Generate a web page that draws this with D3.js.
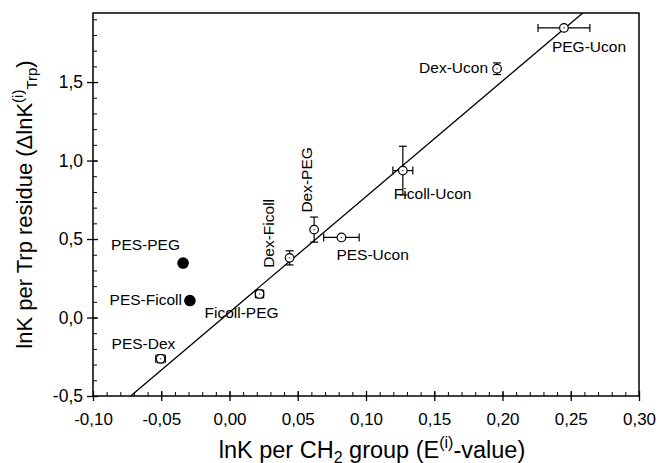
<!DOCTYPE html>
<html>
<head>
<meta charset="utf-8">
<script src="https://cdn.jsdelivr.net/npm/d3@7"></script>
<style>
  body { margin: 0; background: #fff; }
  text { font-family: "Liberation Sans", Arial, sans-serif; fill: #000; }
</style>
</head>
<body>
<div id="chart"></div>
<script>
// systems (polymer pairs) and their values
var systems = ['PEG-Ucon', 'Dex-Ucon', 'Ficoll-Ucon', 'PES-Ucon', 'Dex-PEG', 'Dex-Ficoll', 'Ficoll-PEG', 'PES-PEG', 'PES-Ficoll', 'PES-Dex'];
var eValues = [0.245, 0.196, 0.127, 0.082, 0.062, 0.044, 0.022, -0.034, -0.029, -0.0505];
var trpValues = [1.845, 1.585, 0.936, 0.51, 0.56, 0.38, 0.15, 0.347, 0.108, -0.263];
var eErrors = [0.019, 0.0, 0.0073, 0.013, 0.0, 0.0, 0.003, 0, 0, 0.0035];
var trpErrors = [0.0, 0.037, 0.155, 0.0, 0.08, 0.045, 0.025, 0, 0, 0.025];
var outliers = ['PES-PEG', 'PES-Ficoll'];

// fitted line end points
var fitX = [-0.0724, 0.2588];
var fitY = [-0.5, 1.94];

var xTicks = [-0.10, -0.05, 0.00, 0.05, 0.10, 0.15, 0.20, 0.25, 0.30];
var yTicks = [-0.5, 0.0, 0.5, 1.0, 1.5];

// label placement relative to the point (pixels)
var labelPos = {
  'PEG-Ucon':   {dx: -12, dy: 24, anchor: 'start'},
  'Dex-Ucon':   {dx: -9, dy: 4, anchor: 'end'},
  'Ficoll-Ucon':{dx: -9, dy: 28, anchor: 'start'},
  'PES-Ucon':   {dx: -5, dy: 23, anchor: 'start'},
  'Dex-PEG':    {dx: -2, dy: -17, anchor: 'start', rotate: true},
  'Dex-Ficoll': {dx: -16, dy: 10, anchor: 'start', rotate: true},
  'Ficoll-PEG': {dx: -55, dy: 24, anchor: 'start'},
  'PES-PEG':    {dx: -72, dy: -13, anchor: 'start'},
  'PES-Ficoll': {dx: -8, dy: 4, anchor: 'end'},
  'PES-Dex':    {dx: -49, dy: -10, anchor: 'start'}
};

var W = 658, H = 463;
var mLeft = 93, mRight = 639, mTop = 13, mBottom = 396;

var svg = d3.select('#chart').append('svg')
  .attr('width', W)
  .attr('height', H);

var x = d3.scaleLinear().domain([-0.1, 0.3]).range([mLeft, mRight]);
var y = d3.scaleLinear().domain([-0.5, 1.94]).range([mBottom, mTop]);

var fmt = function(d){ return d3.format('.2f')(d).replace('.', ',').replace('\u2212', '-'); };
var fmtY = function(d){ return d3.format('.1f')(d).replace('.', ',').replace('\u2212', '-'); };

// minor ticks (inside)
svg.append('g')
  .attr('transform', 'translate(0,' + mBottom + ')')
  .call(d3.axisBottom(x).tickValues(d3.range(-0.1, 0.3001, 0.01)).tickSize(-4).tickFormat(''))
  .call(function(g){ g.select('.domain').remove(); g.selectAll('line').attr('stroke-width', 1); });
svg.append('g')
  .attr('transform', 'translate(' + mLeft + ',0)')
  .call(d3.axisLeft(y).tickValues(d3.range(-0.5, 1.94, 0.1)).tickSize(-4).tickFormat(''))
  .call(function(g){ g.select('.domain').remove(); g.selectAll('line').attr('stroke-width', 1); });

// major ticks (crossing)
var xAxis = svg.append('g')
  .attr('transform', 'translate(0,' + mBottom + ')')
  .call(d3.axisBottom(x).tickValues(xTicks).tickSize(5).tickPadding(12).tickFormat(fmt));
xAxis.select('.domain').remove();
xAxis.selectAll('line').attr('y1', -5).attr('stroke-width', 1.3);
xAxis.selectAll('text').attr('font-size', 17).attr('font-family', '"Liberation Sans", Arial, sans-serif');

var yAxis = svg.append('g')
  .attr('transform', 'translate(' + mLeft + ',0)')
  .call(d3.axisLeft(y).tickValues(yTicks).tickSize(6).tickPadding(4).tickFormat(fmtY));
yAxis.select('.domain').remove();
yAxis.selectAll('line').attr('x1', 5).attr('stroke-width', 1.3);
yAxis.selectAll('text').attr('font-size', 17.5).attr('font-family', '"Liberation Sans", Arial, sans-serif');

// frame
svg.append('rect')
  .attr('x', mLeft).attr('y', mTop)
  .attr('width', mRight - mLeft).attr('height', mBottom - mTop)
  .attr('fill', 'none').attr('stroke', '#000').attr('stroke-width', 1.5);

// fitted line
svg.append('line')
  .attr('x1', x(fitX[0])).attr('y1', y(fitY[0]))
  .attr('x2', x(fitX[1])).attr('y2', y(fitY[1]))
  .attr('stroke', '#000').attr('stroke-width', 1.3);

var data = systems.map(function(s, i){
  return {name: s, e: eValues[i], t: trpValues[i], ee: eErrors[i], te: trpErrors[i], filled: outliers.indexOf(s) >= 0};
});

var cap = 4;
var pts = svg.selectAll('g.pt').data(data).enter().append('g').attr('class', 'pt');

// error bars
pts.filter(function(d){ return d.ee > 0; }).each(function(d){
  var g = d3.select(this), cy = y(d.t), x0 = x(d.e - d.ee), x1 = x(d.e + d.ee);
  g.append('line').attr('x1', x0).attr('x2', x1).attr('y1', cy).attr('y2', cy).attr('stroke', '#000').attr('stroke-width', 1.2);
  g.append('line').attr('x1', x0).attr('x2', x0).attr('y1', cy - cap).attr('y2', cy + cap).attr('stroke', '#000').attr('stroke-width', 1.2);
  g.append('line').attr('x1', x1).attr('x2', x1).attr('y1', cy - cap).attr('y2', cy + cap).attr('stroke', '#000').attr('stroke-width', 1.2);
});
pts.filter(function(d){ return d.te > 0; }).each(function(d){
  var g = d3.select(this), cx = x(d.e), y0 = y(d.t - d.te), y1 = y(d.t + d.te);
  g.append('line').attr('x1', cx).attr('x2', cx).attr('y1', y0).attr('y2', y1).attr('stroke', '#000').attr('stroke-width', 1.2);
  g.append('line').attr('x1', cx - cap).attr('x2', cx + cap).attr('y1', y0).attr('y2', y0).attr('stroke', '#000').attr('stroke-width', 1.2);
  g.append('line').attr('x1', cx - cap).attr('x2', cx + cap).attr('y1', y1).attr('y2', y1).attr('stroke', '#000').attr('stroke-width', 1.2);
});

// markers
pts.append('circle')
  .attr('cx', function(d){ return x(d.e); })
  .attr('cy', function(d){ return y(d.t); })
  .attr('r', function(d){ return d.filled ? 5.2 : 4.3; })
  .attr('fill', function(d){ return d.filled ? '#000' : '#fff'; })
  .attr('stroke', '#000').attr('stroke-width', 1.2);
pts.filter(function(d){ return !d.filled; }).append('circle')
  .attr('cx', function(d){ return x(d.e); })
  .attr('cy', function(d){ return y(d.t); })
  .attr('r', 0.8).attr('fill', '#555');

// labels
pts.append('text')
  .attr('font-size', 15.5)
  .attr('text-anchor', function(d){ return labelPos[d.name].anchor; })
  .attr('transform', function(d){
    var p = labelPos[d.name], px = x(d.e) + p.dx, py = y(d.t) + p.dy;
    return 'translate(' + px + ',' + py + ')' + (p.rotate ? ' rotate(-90)' : '');
  })
  .text(function(d){ return d.name; });

// axis titles
var xt = svg.append('text')
  .attr('x', 372).attr('y', 458)
  .attr('text-anchor', 'middle').attr('font-size', 23.5);
xt.append('tspan').text('lnK per CH');
xt.append('tspan').attr('font-size', 16).attr('dy', 5).text('2');
xt.append('tspan').attr('dy', -5).text(' group (E');
xt.append('tspan').attr('font-size', 16).attr('dy', -10).text('(i)');
xt.append('tspan').attr('dy', 10).text('-value)');

var yt = svg.append('text')
  .attr('transform', 'translate(32,' + (mTop + mBottom) / 2 + ') rotate(-90)')
  .attr('text-anchor', 'middle').attr('font-size', 22);
yt.append('tspan').text('lnK per Trp residue (\u0394lnK');
yt.append('tspan').attr('font-size', 15).attr('dy', -9).text('(i)');
yt.append('tspan').attr('font-size', 15).attr('dy', 14).text('Trp');
yt.append('tspan').attr('dy', -5).text(')');
</script>
</body>
</html>
